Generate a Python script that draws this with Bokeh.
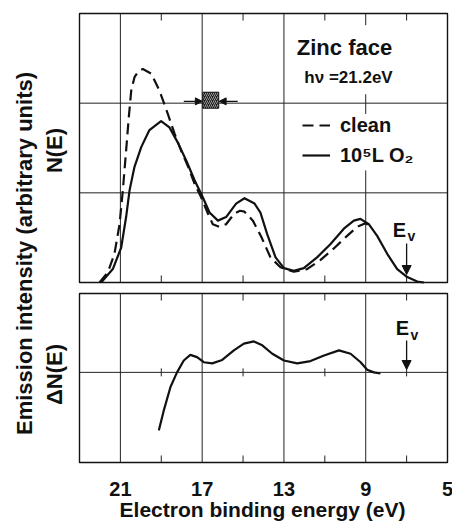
from bokeh.plotting import figure
from bokeh.models import Range1d, Label, Arrow, NormalHead, Legend, LegendItem
from bokeh.core.properties import value
from bokeh.embed import file_html
from bokeh.resources import INLINE

# ---------------- data ----------------
energy_clean = [22.02, 21.61, 21.29, 21.04, 20.88, 20.72, 20.59, 20.47, 20.31, 20.10, 19.90,
                19.49, 19.09, 18.68, 18.35, 18.03, 17.70, 17.37, 17.05, 16.72, 16.48, 16.15,
                15.83, 15.42, 15.15, 14.93, 14.52, 14.11, 13.66, 13.17, 12.52, 11.87, 11.22,
                10.56, 9.91, 9.42, 9.01, 8.77]
n_clean = [0.00, 0.115, 0.32, 0.65, 1.03, 1.47, 1.84, 2.14, 2.29, 2.36, 2.38,
           2.33, 2.14, 1.88, 1.66, 1.47, 1.30, 1.10, 0.95, 0.77, 0.65, 0.62,
           0.65, 0.77, 0.80, 0.79, 0.69, 0.51, 0.28, 0.17, 0.12, 0.15, 0.25,
           0.38, 0.52, 0.62, 0.66, 0.63]

energy_o2 = [21.94, 21.37, 20.96, 20.72, 20.55, 20.31, 19.98, 19.58, 19.01, 18.60, 18.19,
             17.78, 17.37, 16.97, 16.64, 16.23, 15.83, 15.34, 14.93, 14.44, 14.15, 13.82,
             13.41, 13.00, 12.52, 12.03, 11.38, 10.72, 10.07, 9.58, 9.26, 8.85, 8.44,
             7.95, 7.46, 6.97, 6.48, 6.15]
n_o2 = [0.00, 0.15, 0.39, 0.73, 1.03, 1.29, 1.51, 1.70, 1.80, 1.73, 1.56,
        1.36, 1.14, 0.95, 0.78, 0.69, 0.73, 0.88, 0.94, 0.88, 0.78, 0.54,
        0.28, 0.16, 0.13, 0.16, 0.28, 0.43, 0.60, 0.69, 0.71, 0.65, 0.52,
        0.32, 0.15, 0.06, 0.01, 0.00]

energy_diff = [19.12, 18.88, 18.55, 18.23, 17.90, 17.58, 17.25, 16.92, 16.51, 16.02, 15.45,
               14.96, 14.47, 14.06, 13.57, 13.00, 12.35, 11.70, 11.04, 10.31, 9.74, 9.25,
               8.93, 8.60, 8.28]
delta_n = [-1.03, -0.68, -0.26, 0.00, 0.21, 0.31, 0.27, 0.18, 0.16, 0.22, 0.39,
           0.51, 0.55, 0.48, 0.33, 0.21, 0.16, 0.20, 0.30, 0.39, 0.33, 0.18,
           0.045, 0.00, -0.02]

tick_energies = [21, 17, 13, 9, 5]
tick_labels = ["21", "17", "13", "9", "5"]
grid_energies = [21, 17, 13, 9]
minor_energies = [19, 15, 11, 7]
top_hlines = [1, 2]
bot_hlines = [0]
# pieces of the x=9 grid line that are drawn in the top panel (gaps behind the texts)
grid9_pieces = [(0.0, 1.25), (1.88, 2.10), (2.87, 3.0)]

valence_edge = 7.0          # E_v
res_left, res_right = 16.97, 16.19   # resolution marker (eV)
res_bottom, res_top = 1.944, 2.122
res_level = 2.02
res_arrow_l = (17.90, 16.99)
res_arrow_r = (15.26, 16.17)

# ---------------- layout (pixels) ----------------
W, H = 452, 524
FL, FR, FT, FB = 0, W, 0, H                # frame = whole canvas
PL, PR = 79, 447                           # panel x edges
TOP_T, TOP_B = 13, 282
BOT_T, BOT_B = 293, 462
x_lo, x_hi = 23.0, 5.0
top_lo, top_hi = 0.0, 3.0
bot_lo, bot_hi = -1.6, 1.4

sx = (PR - PL) / (x_lo - x_hi)
sy_t = (TOP_B - TOP_T) / (top_hi - top_lo)
sy_b = (BOT_B - BOT_T) / (bot_hi - bot_lo)
xr = Range1d(x_lo + (PL - FL) / sx, x_hi - (FR - PR) / sx)
yr_top = Range1d(top_lo - (FB - TOP_B) / sy_t, top_hi + (TOP_T - FT) / sy_t)
yr_bot = Range1d(bot_lo - (FB - BOT_B) / sy_b, bot_hi + (BOT_T - FT) / sy_b)


def px_x(px):
    return x_lo - (px - PL) / sx


def px_yt(py):
    return top_lo + (TOP_B - py) / sy_t


def px_yb(py):
    return bot_lo + (BOT_B - py) / sy_b


FONT = "Liberation Sans"
INK = "#111111"

p = figure(width=W, height=H, x_range=xr, y_range=yr_top,
           output_backend="svg", toolbar_location=None,
           x_axis_location=None, y_axis_location=None,
           min_border=0, min_border_left=0, min_border_right=0,
           min_border_top=0, min_border_bottom=0)
p.extra_y_ranges = {"bot": yr_bot}
p.outline_line_color = None
p.grid.visible = False
p.background_fill_color = "white"
p.border_fill_color = "white"

# ---------------- grid & panel frames ----------------
GRID = dict(line_color="#222222", line_width=1.0)
vx0, vy0, vx1, vy1 = [], [], [], []
for e in grid_energies:
    pieces = grid9_pieces if e == 9 else [(top_lo, top_hi)]
    for a, b in pieces:
        vx0.append(e); vx1.append(e); vy0.append(a); vy1.append(b)
for h in top_hlines:
    vx0.append(x_lo); vx1.append(x_hi); vy0.append(h); vy1.append(h)
tk_t = 7 / sy_t
for e in minor_energies:
    vx0 += [e, e]; vx1 += [e, e]
    vy0 += [top_hi, top_lo]; vy1 += [top_hi - tk_t, top_lo + tk_t]
p.segment(vx0, vy0, vx1, vy1, **GRID)

bx0, by0, bx1, by1 = [], [], [], []
for e in grid_energies:
    bx0.append(e); bx1.append(e); by0.append(bot_lo); by1.append(bot_hi)
for h in bot_hlines:
    bx0.append(x_lo); bx1.append(x_hi); by0.append(h); by1.append(h)
tk_b = 7 / sy_b
tk_z = 4 / sy_b
for e in minor_energies:
    bx0 += [e, e, e]; bx1 += [e, e, e]
    by0 += [bot_hi, bot_lo, -tk_z]; by1 += [bot_hi - tk_b, bot_lo + tk_b, tk_z]
p.segment(bx0, by0, bx1, by1, y_range_name="bot", **GRID)

p.quad(left=[x_lo], right=[x_hi], bottom=[top_lo], top=[top_hi],
       fill_color=None, line_color=INK, line_width=1.4)
p.quad(left=[x_lo], right=[x_hi], bottom=[bot_lo], top=[bot_hi],
       fill_color=None, line_color=INK, line_width=1.4, y_range_name="bot")

# ---------------- curves ----------------
r_o2 = p.line(energy_o2, n_o2, line_color=INK, line_width=2.2, line_join="round")
r_clean = p.line(energy_clean, n_clean, line_color=INK, line_width=2.2,
                 line_dash="11 6", line_join="round")
p.line(energy_diff, delta_n, line_color=INK, line_width=2.2, line_join="round",
       y_range_name="bot")

# resolution marker
p.quad(left=[res_left], right=[res_right], bottom=[res_bottom], top=[res_top],
       fill_color="#1a1a1a", line_color=INK, line_width=1,
       hatch_pattern="right_diagonal_line", hatch_color="#bbbbbb",
       hatch_scale=4, hatch_weight=0.8)
for xs, xe in (res_arrow_l, res_arrow_r):
    p.add_layout(Arrow(end=NormalHead(size=7, fill_color=INK, line_color=INK),
                       x_start=xs, y_start=res_level, x_end=xe, y_end=res_level,
                       line_color=INK, line_width=1.2))

# E_v arrows
p.add_layout(Arrow(end=NormalHead(size=9, fill_color=INK, line_color=INK),
                   x_start=valence_edge, y_start=px_yt(243), x_end=valence_edge,
                   y_end=px_yt(274), line_color=INK, line_width=1.3))
p.add_layout(Arrow(end=NormalHead(size=9, fill_color=INK, line_color=INK),
                   x_start=valence_edge, y_start=px_yb(340), x_end=valence_edge,
                   y_end=px_yb(369), line_color=INK, line_width=1.3,
                   y_range_name="bot"))

# x tick labels (drawn from the tick arrays)
p.text(x=tick_energies, y=[px_yb(488)] * len(tick_energies), text=tick_labels,
       y_range_name="bot", text_font=value(FONT), text_font_style="bold",
       text_font_size="20px", text_color=INK, text_align="center",
       text_baseline="middle")


def lab(text, px, py, size, bot=False, angle=0.0, style="bold"):
    kw = dict(x=px_x(px), y=(px_yb(py) if bot else px_yt(py)), text=text,
              text_font=FONT, text_font_size=size, text_font_style=style,
              text_color=INK, text_align="center", text_baseline="middle",
              angle=angle)
    if bot:
        kw["y_range_name"] = "bot"
    p.add_layout(Label(**kw))


lab("Electron binding energy (eV)", 262, 509, "21px", bot=True)
lab("Zinc face", 344, 47, "22px")
lab("hν =21.2eV", 348, 77, "17px")
lab("E", 399, 229, "20px")
lab("v", 411, 235, "14px")
lab("E", 402, 327, "20px", bot=True)
lab("v", 414, 334, "14px", bot=True)
lab("Emission intensity (arbitrary units)", 24, 253, "22px", angle=1.5708)
lab("N(E)", 54, 150, "22px", angle=1.5708)
lab("ΔN(E)", 54, 374, "22px", bot=True, angle=1.5708)

# legend
legend = Legend(items=[LegendItem(label="clean", renderers=[r_clean]),
                       LegendItem(label="10⁵L O₂", renderers=[r_o2])],
                location=(302 - FL, FB - 167), orientation="vertical",
                padding=0, margin=0, spacing=6, glyph_width=28, glyph_height=24,
                label_height=24, label_standoff=10, border_line_color=None,
                background_fill_alpha=0, label_text_font=FONT,
                label_text_font_size="20px", label_text_font_style="bold",
                label_text_color=INK)
p.add_layout(legend)

open("out.html", "w").write(file_html(p, INLINE))
